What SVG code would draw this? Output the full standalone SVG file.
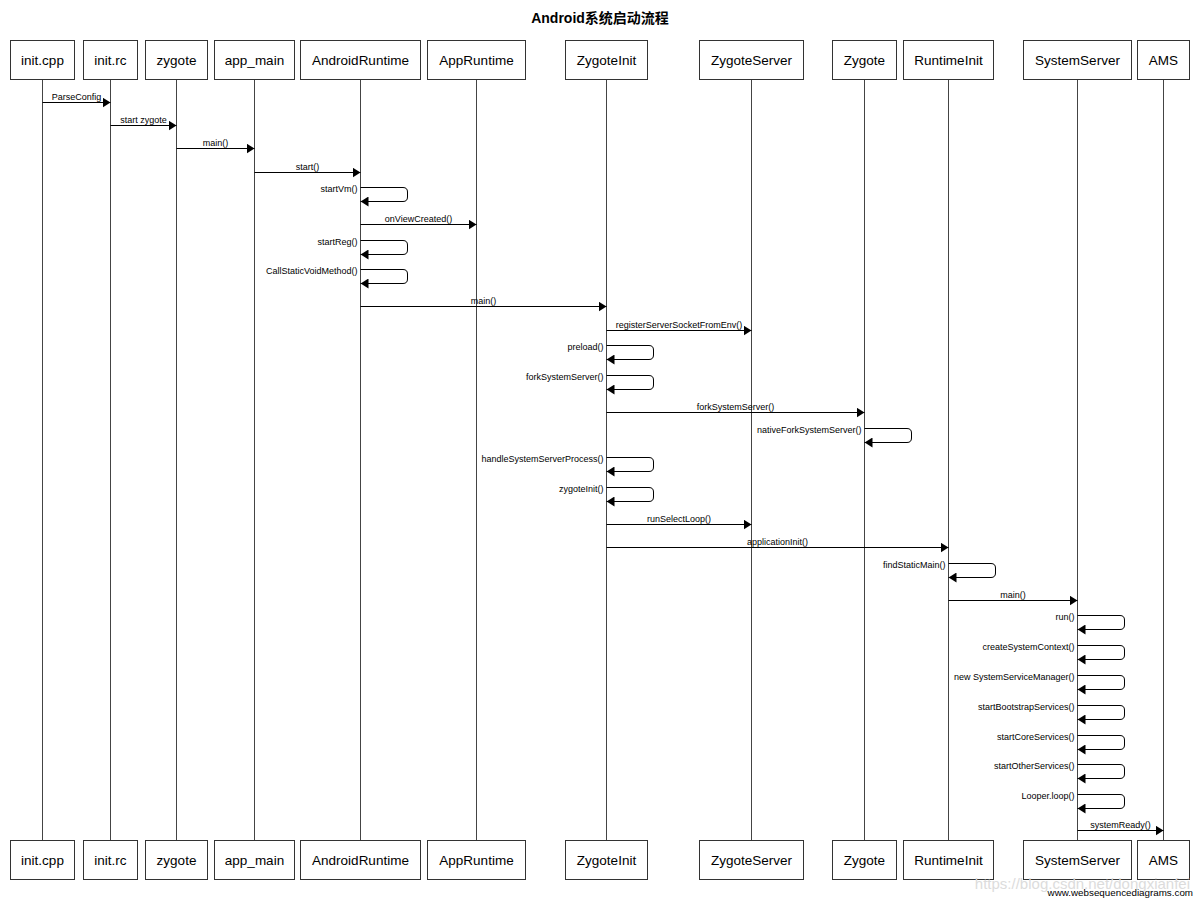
<svg xmlns="http://www.w3.org/2000/svg" width="1200" height="902" viewBox="0 0 1200 902">
<style>
.bg{fill:#fff}
.box{fill:#fff;stroke:#333;stroke-width:1}
.life{stroke:#444;stroke-width:1}
.nl{font-family:"Liberation Sans",Arial,sans-serif;font-size:13.5px;fill:#000;text-anchor:middle}
.msg{stroke:#000;stroke-width:1;fill:none}
.ml{font-family:"Liberation Sans",Arial,sans-serif;font-size:9px;fill:#000;text-anchor:middle}
.sl{font-family:"Liberation Sans",Arial,sans-serif;font-size:9px;fill:#000;text-anchor:end}
.title{font-family:"Liberation Sans","Noto Sans CJK SC",sans-serif;font-size:14px;font-weight:bold;text-anchor:middle;fill:#000}
</style>
<defs>
<marker id="ah" viewBox="0 0 8 10" refX="8" refY="5" markerWidth="8" markerHeight="10" orient="auto" markerUnits="userSpaceOnUse"><path d="M0,0 L8,5 L0,10 z" fill="#000"/></marker>
</defs>
<rect class="bg" x="0" y="0" width="1200" height="902"/>
<text class="title" x="600" y="23">Android系统启动流程</text>

<g id="lifelines">
<line class="life" x1="42.5" y1="79.5" x2="42.5" y2="840.5"/>
<line class="life" x1="110.5" y1="79.5" x2="110.5" y2="840.5"/>
<line class="life" x1="176.5" y1="79.5" x2="176.5" y2="840.5"/>
<line class="life" x1="254.5" y1="79.5" x2="254.5" y2="840.5"/>
<line class="life" x1="360.5" y1="79.5" x2="360.5" y2="840.5"/>
<line class="life" x1="476.5" y1="79.5" x2="476.5" y2="840.5"/>
<line class="life" x1="606.5" y1="79.5" x2="606.5" y2="840.5"/>
<line class="life" x1="751.5" y1="79.5" x2="751.5" y2="840.5"/>
<line class="life" x1="864.5" y1="79.5" x2="864.5" y2="840.5"/>
<line class="life" x1="948.5" y1="79.5" x2="948.5" y2="840.5"/>
<line class="life" x1="1077.5" y1="79.5" x2="1077.5" y2="840.5"/>
<line class="life" x1="1163.5" y1="79.5" x2="1163.5" y2="840.5"/>
</g>

<g id="node-initcpp"><rect class="box" x="10.5" y="40.5" width="64" height="39"/><text class="nl" x="42.5" y="64.5">init.cpp</text><rect class="box" x="10.5" y="840.5" width="64" height="39"/><text class="nl" x="42.5" y="864.5">init.cpp</text></g>
<g id="node-initrc"><rect class="box" x="83.5" y="40.5" width="54" height="39"/><text class="nl" x="110.5" y="64.5">init.rc</text><rect class="box" x="83.5" y="840.5" width="54" height="39"/><text class="nl" x="110.5" y="864.5">init.rc</text></g>
<g id="node-zygote"><rect class="box" x="145.5" y="40.5" width="62" height="39"/><text class="nl" x="176.5" y="64.5">zygote</text><rect class="box" x="145.5" y="840.5" width="62" height="39"/><text class="nl" x="176.5" y="864.5">zygote</text></g>
<g id="node-appmain"><rect class="box" x="214.5" y="40.5" width="80" height="39"/><text class="nl" x="254.5" y="64.5">app_main</text><rect class="box" x="214.5" y="840.5" width="80" height="39"/><text class="nl" x="254.5" y="864.5">app_main</text></g>
<g id="node-androidruntime"><rect class="box" x="300.5" y="40.5" width="120" height="39"/><text class="nl" x="360.5" y="64.5">AndroidRuntime</text><rect class="box" x="300.5" y="840.5" width="120" height="39"/><text class="nl" x="360.5" y="864.5">AndroidRuntime</text></g>
<g id="node-appruntime"><rect class="box" x="427.5" y="40.5" width="98" height="39"/><text class="nl" x="476.5" y="64.5">AppRuntime</text><rect class="box" x="427.5" y="840.5" width="98" height="39"/><text class="nl" x="476.5" y="864.5">AppRuntime</text></g>
<g id="node-zygoteinit"><rect class="box" x="565.5" y="40.5" width="82" height="39"/><text class="nl" x="606.5" y="64.5">ZygoteInit</text><rect class="box" x="565.5" y="840.5" width="82" height="39"/><text class="nl" x="606.5" y="864.5">ZygoteInit</text></g>
<g id="node-zygoteserver"><rect class="box" x="699.5" y="40.5" width="104" height="39"/><text class="nl" x="751.5" y="64.5">ZygoteServer</text><rect class="box" x="699.5" y="840.5" width="104" height="39"/><text class="nl" x="751.5" y="864.5">ZygoteServer</text></g>
<g id="node-Zygote"><rect class="box" x="832.5" y="40.5" width="64" height="39"/><text class="nl" x="864.5" y="64.5">Zygote</text><rect class="box" x="832.5" y="840.5" width="64" height="39"/><text class="nl" x="864.5" y="864.5">Zygote</text></g>
<g id="node-runtimeinit"><rect class="box" x="903.5" y="40.5" width="90" height="39"/><text class="nl" x="948.5" y="64.5">RuntimeInit</text><rect class="box" x="903.5" y="840.5" width="90" height="39"/><text class="nl" x="948.5" y="864.5">RuntimeInit</text></g>
<g id="node-systemserver"><rect class="box" x="1023.5" y="40.5" width="108" height="39"/><text class="nl" x="1077.5" y="64.5">SystemServer</text><rect class="box" x="1023.5" y="840.5" width="108" height="39"/><text class="nl" x="1077.5" y="864.5">SystemServer</text></g>
<g id="node-ams"><rect class="box" x="1137.5" y="40.5" width="52" height="39"/><text class="nl" x="1163.5" y="64.5">AMS</text><rect class="box" x="1137.5" y="840.5" width="52" height="39"/><text class="nl" x="1163.5" y="864.5">AMS</text></g>

<g id="connectors">
<path class="msg" marker-end="url(#ah)" d="M42.5,102.5 H110.5"/><text class="ml" x="76.5" y="99.5">ParseConfig</text>
<path class="msg" marker-end="url(#ah)" d="M110.5,125.5 H176.5"/><text class="ml" x="143.5" y="122.5">start zygote</text>
<path class="msg" marker-end="url(#ah)" d="M176.5,148.5 H254.5"/><text class="ml" x="215.5" y="145.5">main()</text>
<path class="msg" marker-end="url(#ah)" d="M254.5,172.5 H360.5"/><text class="ml" x="307.5" y="169.5">start()</text>
<path class="msg" marker-end="url(#ah)" d="M360.5,187.5 H403 Q407.5,187.5 407.5,192 V197 Q407.5,201.5 403,201.5 H360.5"/><text class="sl" x="357.5" y="192">startVm()</text>
<path class="msg" marker-end="url(#ah)" d="M360.5,224.5 H476.5"/><text class="ml" x="418.5" y="221.5">onViewCreated()</text>
<path class="msg" marker-end="url(#ah)" d="M360.5,240.5 H403 Q407.5,240.5 407.5,245 V250 Q407.5,254.5 403,254.5 H360.5"/><text class="sl" x="357.5" y="245">startReg()</text>
<path class="msg" marker-end="url(#ah)" d="M360.5,269.5 H403 Q407.5,269.5 407.5,274 V279 Q407.5,283.5 403,283.5 H360.5"/><text class="sl" x="357.5" y="274">CallStaticVoidMethod()</text>
<path class="msg" marker-end="url(#ah)" d="M360.5,306.5 H606.5"/><text class="ml" x="483.5" y="303.5">main()</text>
<path class="msg" marker-end="url(#ah)" d="M606.5,330.5 H751.5"/><text class="ml" x="679" y="327.5">registerServerSocketFromEnv()</text>
<path class="msg" marker-end="url(#ah)" d="M606.5,345.5 H649 Q653.5,345.5 653.5,350 V355 Q653.5,359.5 649,359.5 H606.5"/><text class="sl" x="603.5" y="350">preload()</text>
<path class="msg" marker-end="url(#ah)" d="M606.5,375.5 H649 Q653.5,375.5 653.5,380 V385 Q653.5,389.5 649,389.5 H606.5"/><text class="sl" x="603.5" y="380">forkSystemServer()</text>
<path class="msg" marker-end="url(#ah)" d="M606.5,412.5 H864.5"/><text class="ml" x="735.5" y="409.5">forkSystemServer()</text>
<path class="msg" marker-end="url(#ah)" d="M864.5,428.5 H907 Q911.5,428.5 911.5,433 V438 Q911.5,442.5 907,442.5 H864.5"/><text class="sl" x="861.5" y="433">nativeForkSystemServer()</text>
<path class="msg" marker-end="url(#ah)" d="M606.5,457.5 H649 Q653.5,457.5 653.5,462 V467 Q653.5,471.5 649,471.5 H606.5"/><text class="sl" x="603.5" y="462">handleSystemServerProcess()</text>
<path class="msg" marker-end="url(#ah)" d="M606.5,487.5 H649 Q653.5,487.5 653.5,492 V497 Q653.5,501.5 649,501.5 H606.5"/><text class="sl" x="603.5" y="492">zygoteInit()</text>
<path class="msg" marker-end="url(#ah)" d="M606.5,524.5 H751.5"/><text class="ml" x="679" y="521.5">runSelectLoop()</text>
<path class="msg" marker-end="url(#ah)" d="M606.5,547.5 H948.5"/><text class="ml" x="777.5" y="544.5">applicationInit()</text>
<path class="msg" marker-end="url(#ah)" d="M948.5,563.5 H991 Q995.5,563.5 995.5,568 V573 Q995.5,577.5 991,577.5 H948.5"/><text class="sl" x="945.5" y="568">findStaticMain()</text>
<path class="msg" marker-end="url(#ah)" d="M948.5,600.5 H1077.5"/><text class="ml" x="1013" y="597.5">main()</text>
<path class="msg" marker-end="url(#ah)" d="M1077.5,615.5 H1120 Q1124.5,615.5 1124.5,620 V625 Q1124.5,629.5 1120,629.5 H1077.5"/><text class="sl" x="1074.5" y="620">run()</text>
<path class="msg" marker-end="url(#ah)" d="M1077.5,645.5 H1120 Q1124.5,645.5 1124.5,650 V655 Q1124.5,659.5 1120,659.5 H1077.5"/><text class="sl" x="1074.5" y="650">createSystemContext()</text>
<path class="msg" marker-end="url(#ah)" d="M1077.5,675.5 H1120 Q1124.5,675.5 1124.5,680 V685 Q1124.5,689.5 1120,689.5 H1077.5"/><text class="sl" x="1074.5" y="680">new SystemServiceManager()</text>
<path class="msg" marker-end="url(#ah)" d="M1077.5,705.5 H1120 Q1124.5,705.5 1124.5,710 V715 Q1124.5,719.5 1120,719.5 H1077.5"/><text class="sl" x="1074.5" y="710">startBootstrapServices()</text>
<path class="msg" marker-end="url(#ah)" d="M1077.5,735.5 H1120 Q1124.5,735.5 1124.5,740 V745 Q1124.5,749.5 1120,749.5 H1077.5"/><text class="sl" x="1074.5" y="740">startCoreServices()</text>
<path class="msg" marker-end="url(#ah)" d="M1077.5,764.5 H1120 Q1124.5,764.5 1124.5,769 V774 Q1124.5,778.5 1120,778.5 H1077.5"/><text class="sl" x="1074.5" y="769">startOtherServices()</text>
<path class="msg" marker-end="url(#ah)" d="M1077.5,794.5 H1120 Q1124.5,794.5 1124.5,799 V804 Q1124.5,808.5 1120,808.5 H1077.5"/><text class="sl" x="1074.5" y="799">Looper.loop()</text>
<path class="msg" marker-end="url(#ah)" d="M1077.5,830.5 H1163.5"/><text class="ml" x="1120.5" y="827.5">systemReady()</text>
</g>

<text x="1190" y="889" font-family="'Liberation Sans',Arial,sans-serif" font-size="15px" fill="#dcdcdc" text-anchor="end">https://blog.csdn.net/dongxianfei</text>
<text x="1193" y="896" font-family="'Liberation Sans',Arial,sans-serif" font-size="9.8px" fill="#000" text-anchor="end">www.websequencediagrams.com</text>
</svg>
